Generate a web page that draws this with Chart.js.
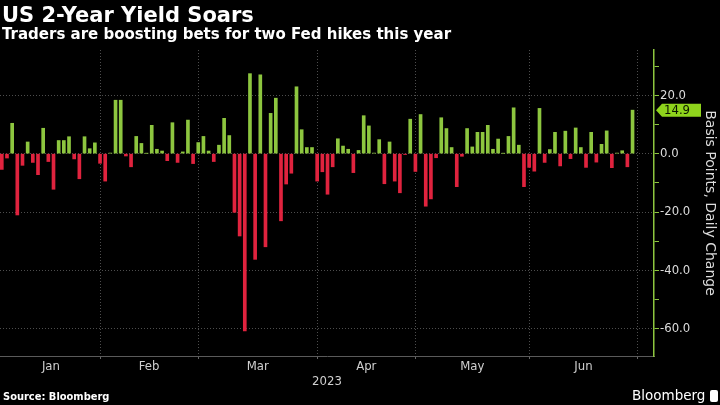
<!DOCTYPE html>
<html>
<head>
<meta charset="utf-8">
<script src="https://cdn.jsdelivr.net/npm/chart.js@4.4.0/dist/chart.umd.min.js"></script>
<style>
  html, body { margin: 0; padding: 0; background: #000; }
  #wrap { position: relative; width: 720px; height: 405px; background: #000; overflow: hidden; }
  #chart { position: absolute; left: 0; top: 0; }
  .title { position: absolute; left: 2px; top: 5px; color: #fff; font: bold 21px 'DejaVu Sans'; line-height: 1; white-space: nowrap; }
  .subtitle { position: absolute; left: 2px; top: 27px; color: #fff; font: bold 15px 'DejaVu Sans'; line-height: 1; white-space: nowrap; }
  .source { position: absolute; left: 3px; top: 391px; color: #fff; font: bold 11px 'DejaVu Sans Condensed'; line-height: 1; }
  .brand { position: absolute; left: 632px; top: 389px; color: #fff; font: 13.5px 'DejaVu Sans'; line-height: 1; }
  .logo { position: absolute; left: 710px; top: 390px; width: 8px; height: 12px; background: #fff; border-radius: 2px; }
</style>
</head>
<body>
<div id="wrap">
  <canvas id="chart" width="720" height="405"></canvas>
  <div class="title">US 2-Year Yield Soars</div>
  <div class="subtitle">Traders are boosting bets for two Fed hikes this year</div>
  <div class="source">Source: Bloomberg</div>
  <div class="brand">Bloomberg</div>
  <div class="logo"></div>
</div>
<script>
// daily change of the 2-year yield, basis points, one value per trading day
var months = ['Jan', 'Feb', 'Mar', 'Apr', 'May', 'Jun'];
var tradingDays = [20, 19, 23, 19, 22, 21];
var jan = [-5.4, -1.5, 10.4, -21, -4, 4, -3, -7.2, 8.7, -2.7, -12.2, 4.5, 4.5, 5.8, -1.8, -8.6, 5.8, 1.7, 3.7, -3.3];
var feb = [-9.4, 0.2, 18.3, 18.3, -0.8, -4.5, 5.9, 3.5, 0.1, 9.7, 1.5, 0.9, -2.4, 10.6, -3.0, 0.6, 11.5, -3.4, 3.8];
var mar = [5.9, 0.9, -2.7, 2.9, 12.1, 6.2, -20.1, -28.2, -60.7, 27.4, -36.2, 27, -31.9, 13.8, 19, -23, -10.4, -6.7, 22.9, 8.2, 2.1, 2.1, -9.4];
var apr = [-6.2, -13.9, -4.5, 5.1, 2.6, 1.5, -6.5, 1.1, 13, 9.5, 0.2, 4.8, -10.3, 4, -9.4, -13.4, -0.3, 11.8, -6.1];
var may = [13.4, -18, -15.5, -1.4, 12.3, 8.6, 2.1, -11.3, -0.9, 8.6, 2.3, 7.3, 7.3, 9.7, 1.5, 5, 0.1, 5.9, 15.7, 2.9, -11.3, -4.7];
var jun = [-6, 15.5, -3, 1.4, 7.3, -4.2, 7.7, -1.7, 8.8, 2.1, -4.7, 7.3, -2.9, 3.2, 7.8, -4.8, 0.2, 1, -4.5, 14.9];
var yTickValues = [-60, -50, -40, -30, -20, -10, 0, 10, 20, 30];
var yLabelStep = 20;
var yearLabel = '2023';
var unitLabel = 'Basis Points, Daily Change';

var GREEN = '#8dc63f';
var RED = '#e0233e';
var AXIS_FONT = 'DejaVu Sans Condensed';

var values = [].concat(jan, feb, mar, apr, may, jun);
var points = values.map(function (v, i) { return { x: i + 1, y: v }; });

// month ends (gridlines) and mid points (labels) in trading-day units
var monthEnds = [];
var run = 0;
tradingDays.forEach(function (d) { run += d; monthEnds.push(run); });
var monthMids = monthEnds.map(function (e, i) { return ((i === 0 ? 1 : monthEnds[i - 1]) + e) / 2; });
var xTicks = monthEnds.concat(monthMids).sort(function (a, b) { return a - b; });

function isMonthEnd(v) { return monthEnds.indexOf(v) >= 0; }

// green tag with the latest value on the right axis
var lastTag = {
  id: 'lastTag',
  afterDraw: function (chart) {
    var ys = chart.scales.y;
    var ctx = chart.ctx;
    var v = values[values.length - 1];
    var py = ys.getPixelForValue(v);
    var x0 = ys.left + 2;
    ctx.save();
    ctx.fillStyle = '#8fd41c';
    ctx.beginPath();
    ctx.moveTo(x0, py);
    ctx.lineTo(x0 + 6, py - 6.5);
    ctx.lineTo(x0 + 45, py - 6.5);
    ctx.lineTo(x0 + 45, py + 6.5);
    ctx.lineTo(x0 + 6, py + 6.5);
    ctx.closePath();
    ctx.fill();
    ctx.fillStyle = '#0a1400';
    ctx.font = '13px "' + AXIS_FONT + '"';
    ctx.textBaseline = 'middle';
    ctx.fillText(v.toFixed(1), x0 + 8, py + 0.5);
    ctx.restore();
  }
};

Chart.defaults.font.family = AXIS_FONT;

var chart = new Chart(document.getElementById('chart').getContext('2d'), {
  type: 'bar',
  data: {
    datasets: [{
      label: 'Daily change',
      data: points,
      barThickness: 3,
      backgroundColor: function (c) { return c.parsed && c.parsed.y < 0 ? RED : GREEN; }
    }]
  },
  plugins: [lastTag],
  options: {
    responsive: false,
    animation: false,
    layout: { padding: { top: 50, bottom: 16, left: 0, right: 0 } },
    plugins: { legend: { display: false }, tooltip: { enabled: false } },
    scales: {
      x: {
        type: 'linear',
        offset: false,
        min: 0.65,
        max: 127.15,
        afterBuildTicks: function (s) { s.ticks = xTicks.map(function (v) { return { value: v }; }); },
        afterFit: function (s) { s.height = 33; },
        ticks: {
          autoSkip: false,
          maxRotation: 0,
          padding: 0,
          color: '#cfcfcf',
          font: { size: 13 },
          callback: function (v) {
            var i = monthMids.indexOf(v);
            return i >= 0 ? months[i] : '';
          }
        },
        grid: {
          offset: false,
          color: function (c) { return c.tick && isMonthEnd(c.tick.value) ? '#4d4d4d' : 'transparent'; },
          tickColor: function (c) { return c.tick && isMonthEnd(c.tick.value) ? '#666' : 'transparent'; },
          tickLength: 3
        },
        border: { color: '#5a5a5a', width: 1, dash: [1, 2] },
        title: { display: true, text: yearLabel, color: '#cfcfcf', font: { size: 13 }, padding: 0 }
      },
      y: {
        position: 'right',
        min: -69.3,
        max: 35.5,
        afterBuildTicks: function (s) { s.ticks = yTickValues.map(function (v) { return { value: v }; }); },
        afterFit: function (s) { s.width = 66; },
        ticks: {
          autoSkip: false,
          padding: 1,
          color: '#dcdcdc',
          font: { size: 13 },
          callback: function (v) { return v % yLabelStep === 0 ? v.toFixed(1) : ''; }
        },
        grid: {
          color: function (c) { return c.tick && c.tick.value % yLabelStep === 0 ? '#4d4d4d' : 'transparent'; },
          tickColor: GREEN,
          tickLength: 5
        },
        border: { color: GREEN, width: 1.5, dash: [1, 2] },
        title: { display: true, text: unitLabel, color: '#dcdcdc', font: { family: 'DejaVu Sans', size: 14 }, padding: { top: 1.5, bottom: 0 } }
      }
    }
  }
});
</script>
</body>
</html>
